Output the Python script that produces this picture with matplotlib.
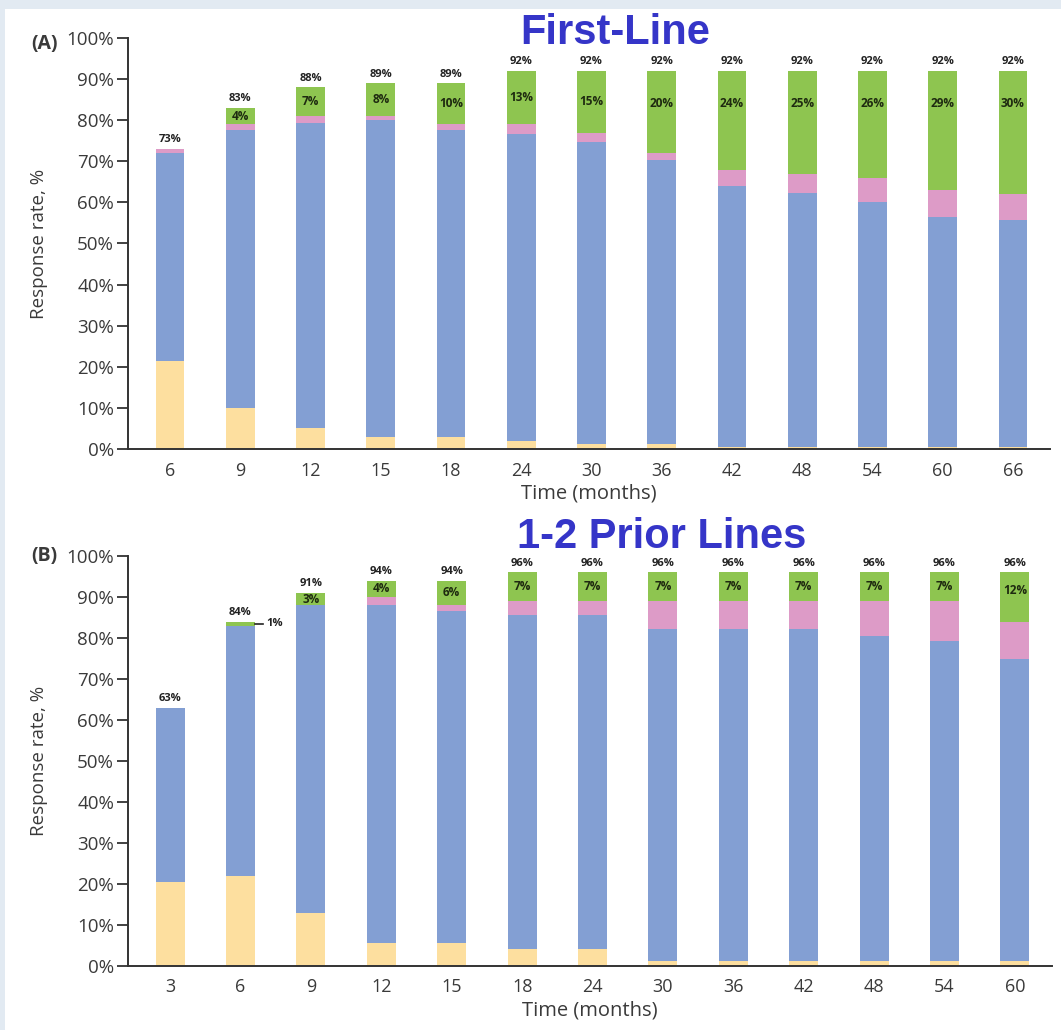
import matplotlib
matplotlib.use("Agg")
import matplotlib.pyplot as plt
from matplotlib.patches import Rectangle


FIG_W, FIG_H = 1061, 1030
TEXT_COLOR = "#3a3a3a"
TITLE_COLOR = "#3535c8"
YELLOW = "#fddf9f"
BLUE = "#839fd3"
PINK = "#dd9bc7"
GREEN = "#8ec550"

# --- (A) first-line ---
months_a = ["6", "9", "12", "15", "18", "24", "30", "36", "42", "48", "54", "60", "66"]
yellow_a = [21.5, 10.0, 5.0, 3.0, 3.0, 2.0, 1.3, 1.3, 0.5, 0.5, 0.5, 0.5, 0.5]
blue_a = [50.5, 67.5, 74.3, 77.0, 74.5, 74.7, 73.5, 69.0, 63.4, 61.9, 59.5, 55.9, 55.2]
pink_a = [1.0, 1.5, 1.7, 1.0, 1.5, 2.3, 2.2, 1.7, 4.1, 4.6, 6.0, 6.6, 6.3]
green_a = [0, 4, 7, 8, 10, 13, 15, 20, 24, 25, 26, 29, 30]
totals_a = [73, 83, 88, 89, 89, 92, 92, 92, 92, 92, 92, 92, 92]

# --- (B) 1-2 prior lines ---
months_b = ["3", "6", "9", "12", "15", "18", "24", "30", "36", "42", "48", "54", "60"]
yellow_b = [20.5, 22.0, 13.0, 5.6, 5.6, 4.2, 4.2, 1.2, 1.2, 1.2, 1.2, 1.2, 1.2]
blue_b = [42.5, 61.0, 75.0, 82.4, 80.9, 81.5, 81.5, 81.0, 81.0, 81.0, 79.4, 78.1, 73.8]
pink_b = [0, 0, 0, 2.0, 1.5, 3.3, 3.3, 6.8, 6.8, 6.8, 8.4, 9.7, 9.0]
green_b = [0, 1, 3, 4, 6, 7, 7, 7, 7, 7, 7, 7, 12]
totals_b = [63, 84, 91, 94, 94, 96, 96, 96, 96, 96, 96, 96, 96]


def px_axes(left, top, right, bottom):
    # pixel box -> figure fraction rect
    return [left / FIG_W, 1 - bottom / FIG_H, (right - left) / FIG_W, (bottom - top) / FIG_H]


def draw_panel(ax, months, yellow, blue, pink, green, totals, green_gap, side_note=None):
    x = list(range(len(months)))
    w = 0.41
    b1 = yellow
    b2 = [a + b for a, b in zip(yellow, blue)]
    b3 = [a + b for a, b in zip(b2, pink)]
    ax.bar(x, yellow, w, color=YELLOW, zorder=2)
    ax.bar(x, blue, w, bottom=b1, color=BLUE, zorder=2)
    ax.bar(x, pink, w, bottom=b2, color=PINK, zorder=2)
    ax.bar(x, green, w, bottom=b3, color=GREEN, zorder=2)

    for i, tot in enumerate(totals):
        ax.annotate(f"{tot}%", (i, tot), xytext=(0, 2.5), textcoords="offset points",
                    ha="center", va="bottom", fontsize=8, fontweight="bold", color="#222222")
        g = green[i]
        if g >= 2:
            # short green parts get a centred label, tall ones keep it near the top
            mid = b3[i] + g / 2
            ylab = max(mid, tot - green_gap)
            ax.text(i, ylab, f"{g}%", ha="center", va="center", fontsize=8.5,
                    fontweight="bold", color="#1e2a10")

    # small green slice labelled off to the side
    if side_note is not None:
        i = side_note
        yy = b3[i] + green[i] / 2
        ax.plot([i + w / 2, i + w / 2 + 0.11], [yy, yy], color="#222222", lw=1.2,
                clip_on=False, zorder=3)
        ax.text(i + w / 2 + 0.16, yy, f"{green[i]}%", ha="left", va="center",
                fontsize=8, fontweight="bold", color="#222222")

    ax.set_xlim(-0.598, 12.527)
    ax.set_ylim(0, 100)
    ax.set_xticks(x)
    ax.set_xticklabels(months)
    ax.set_yticks(range(0, 101, 10))
    ax.set_yticklabels([f"{v}%" for v in range(0, 101, 10)])
    ax.tick_params(axis="x", length=0, pad=9, labelsize=13, labelcolor=TEXT_COLOR)
    ax.tick_params(axis="y", length=8, width=1.3, color="#333333", pad=2,
                   labelsize=13.5, labelcolor=TEXT_COLOR)
    for side in ("top", "right"):
        ax.spines[side].set_visible(False)
    for side in ("left", "bottom"):
        ax.spines[side].set_color("#333333")
        ax.spines[side].set_linewidth(1.4)
    ax.set_facecolor("white")
    ax.set_ylabel("Response rate, %", fontsize=13.5, color=TEXT_COLOR)
    ax.set_xlabel("Time (months)", fontsize=14.5, color=TEXT_COLOR)
    ax.yaxis.set_label_coords(-0.087, 0.5)
    ax.xaxis.set_label_coords(0.5, -0.085)


def main():
    plt.rcParams["font.family"] = ["Open Sans", "DejaVu Sans"]
    fig = plt.figure(figsize=(FIG_W / 100, FIG_H / 100), dpi=100, facecolor="#e2eaf2")
    # white card inside the blue-grey frame
    fig.patches.append(Rectangle((5 / FIG_W, 0), 1, 1 - 9 / FIG_H, transform=fig.transFigure,
                                 facecolor="white", edgecolor="none", zorder=-5))

    ax_a = fig.add_axes(px_axes(128, 38, 1050, 449))
    draw_panel(ax_a, months_a, yellow_a, blue_a, pink_a, green_a, totals_a, green_gap=8)

    ax_b = fig.add_axes(px_axes(128, 556, 1052, 966))
    draw_panel(ax_b, months_b, yellow_b, blue_b, pink_b, green_b, totals_b, green_gap=4.5,
               side_note=1)

    fig.text(44 / FIG_W, 1 - 44 / FIG_H, "(A)", ha="center", va="center", fontsize=14,
             fontweight="bold", color=TEXT_COLOR)
    fig.text(44 / FIG_W, 1 - 556 / FIG_H, "(B)", ha="center", va="center", fontsize=14,
             fontweight="bold", color=TEXT_COLOR)

    title_font = dict(family="Liberation Sans", fontsize=30, fontweight="bold", color=TITLE_COLOR,
                      ha="center", va="center")
    fig.text(615 / FIG_W, 1 - 33 / FIG_H, "First-Line", **title_font)
    fig.text(662 / FIG_W, 1 - 537 / FIG_H, "1-2 Prior Lines", **title_font)

    fig.savefig("out.png", dpi=100, facecolor=fig.get_facecolor())


if __name__ == "__main__":
    main()
